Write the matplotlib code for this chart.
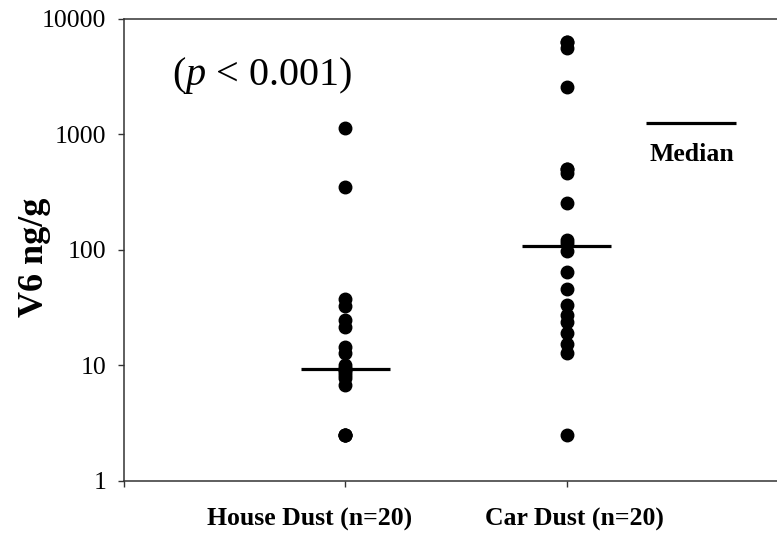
import numpy as np
import matplotlib
matplotlib.use("Agg")
import matplotlib.pyplot as plt
from matplotlib import transforms

# V6 concentrations (ng/g), 20 samples per group
house_dust = [2.5, 2.5, 2.5, 2.5, 6.7, 7.8, 8.2, 8.7, 9.0, 9.2,
              9.5, 10.0, 12.7, 14.5, 21.5, 24.6, 32.5, 37.2, 347, 1125]
car_dust = [2.5, 12.7, 15.3, 18.9, 23.8, 27.2, 33.2, 45.4, 64.5, 98,
            115, 121, 255, 459, 500, 500, 2580, 5540, 6320, 6320]
groups = ["House Dust (n=20)", "Car Dust (n=20)"]
p_text = "($\\mathit{p}$ < 0.001)"

plt.rcParams['font.family'] = ['Liberation Serif', 'DejaVu Serif']
plt.rcParams['mathtext.fontset'] = 'custom'
plt.rcParams['mathtext.rm'] = 'Liberation Serif'
plt.rcParams['mathtext.it'] = 'Liberation Serif:italic'

fig = plt.figure(figsize=(7.77, 5.33), dpi=100)
ax = fig.add_axes([0.160, 0.0981, 0.840, 0.867])

for i, vals in enumerate([house_dust, car_dust], start=1):
    ax.plot([i] * len(vals), vals, 'o', color='black', markersize=9, zorder=3)
    med = np.median(vals)
    ax.plot([i - 0.2, i + 0.2], [med, med], color='black', lw=2.3,
            solid_capstyle='butt', zorder=4)

ax.set_yscale('log')
ax.set_ylim(1, 10000)
ax.set_xlim(0, 2.952)
ax.set_yticks([1, 10, 100, 1000, 10000])
ax.set_yticklabels(['1', '10', '100', '1000', '10000'])
ax.yaxis.set_minor_locator(matplotlib.ticker.NullLocator())
ax.set_xticks([0, 1, 2])
ax.set_xticklabels(['', '', ''])
ax.tick_params(axis='y', labelsize=18.5, direction='out', length=4.5, width=1,
               color='#333333', pad=8.5)
ax.tick_params(axis='x', direction='out', length=4.5, width=1,
               color='#333333')

# group labels sit a little apart from the tick marks in the original
trans = transforms.blended_transform_factory(ax.transData, ax.transAxes)
for xpos, name in zip([0.839, 2.034], groups):
    ax.text(xpos, -0.083, name, transform=trans, fontsize=18.5,
            fontweight='bold', ha='center', va='center')

for side in ['left', 'bottom', 'top']:
    ax.spines[side].set_linewidth(1.1)
    ax.spines[side].set_color('#333333')
ax.spines['right'].set_visible(False)

ax.set_ylabel('V6 ng/g', fontsize=26, fontweight='bold')
ax.yaxis.set_label_coords(-0.113, 0.484)

ax.text(0.211, 0.877, p_text, transform=ax.transAxes, fontsize=29,
        ha='center', va='center')

# legend for the median bar
ax.plot([0.7993, 0.9374], [0.774, 0.774], transform=ax.transAxes,
        color='black', lw=2.3, solid_capstyle='butt', clip_on=False)
ax.text(0.869, 0.706, 'Median', transform=ax.transAxes, fontsize=18.5,
        fontweight='bold', ha='center', va='center')

fig.savefig('out.png', dpi=100)
